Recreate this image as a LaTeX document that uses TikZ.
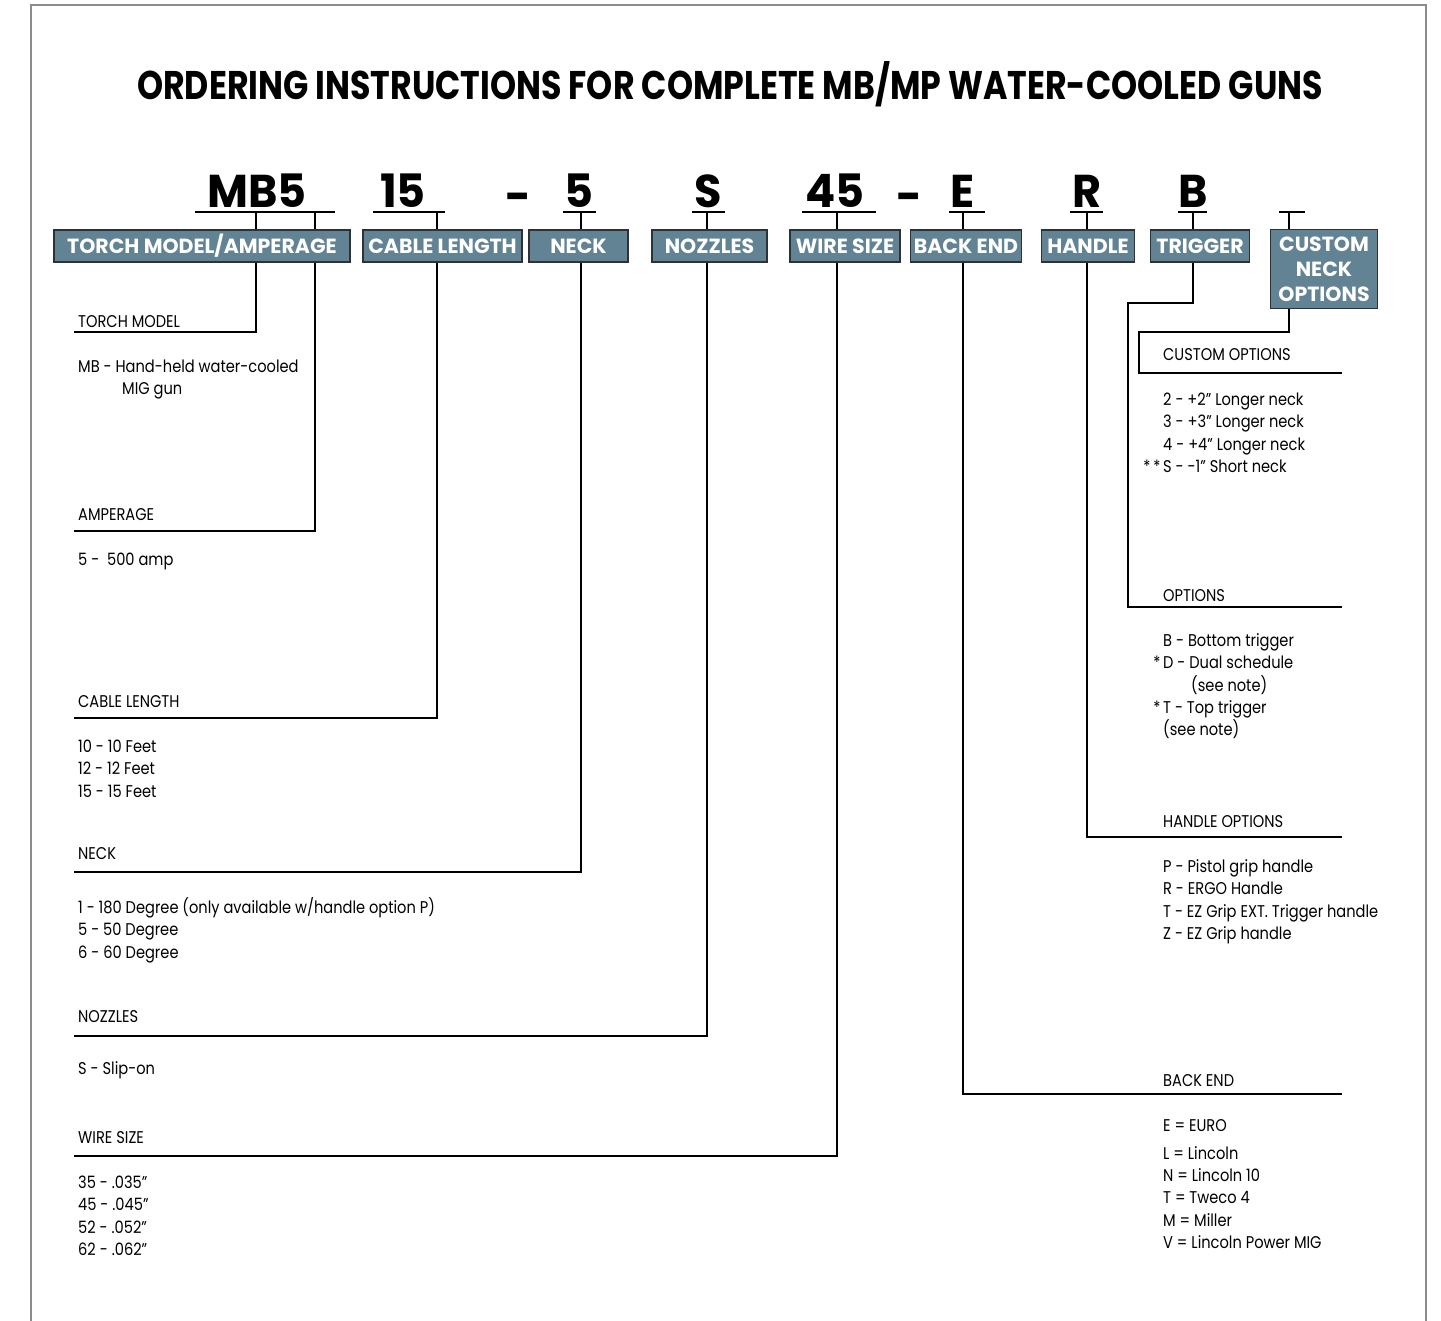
\documentclass[tikz,border=0pt]{standalone}
\usepackage{fontspec}
\setmainfont{Poppins}[FakeStretch=0.86]
\newfontfamily\titlefont{Poppins}[FakeStretch=0.83]
\newfontfamily\boxfont{Poppins}[FakeStretch=1.0]
\newfontfamily\codefont{Poppins}[FakeStretch=0.97]
\usetikzlibrary{calc}
\definecolor{boxblue}{RGB}{98,131,148}
\definecolor{boxedge}{RGB}{45,50,55}
\definecolor{framegray}{RGB}{140,140,140}
\tikzset{
  catbox/.style={draw=boxedge, line width=1.5, fill=boxblue, text=white, inner sep=0,
    font=\boxfont\bfseries\fontsize{20.5}{25}\selectfont, minimum height=32, align=center},
  codetxt/.style={font=\codefont\bfseries\fontsize{46}{46}\selectfont, anchor=base, inner sep=0},
  headtxt/.style={font=\fontsize{17}{20}\selectfont, anchor=base west, inner sep=0},
  leader/.style={line width=1.4, black},
}

\begin{document}
\begin{tikzpicture}[x=1pt, y=-1pt]
\useasboundingbox (0,0) rectangle (1441,1321);
\draw[framegray, line width=2] (31,1321) -- (31,5) -- (1426,5) -- (1426,1321);
\node[anchor=base, inner sep=0, font=\titlefont\bfseries\fontsize{40}{44}\selectfont] (title) at (730,100)
  {ORDERING INSTRUCTIONS FOR COMPLETE MB/MP WATER-COOLED GUNS};

% part number
\foreach \cx/\t/\n in {257/MB5/cMB, 403/15/cLen, 579/5/cNeck, 708/S/cNoz, 835/45/cWire, 963/E/cBack, 1087/R/cHandle, 1193/B/cTrig}
  \node[codetxt] (\n) at (\cx,208) {\t};
\node[codetxt] (dash1) at (518,213) {-};
\node[codetxt] (dash2) at (909,213) {-};
\foreach \a/\b in {195/335, 373/445, 563/596, 692/725, 802/876, 949/985, 1070/1103, 1178/1207, 1279/1305}
  \draw[leader] (\a,212) -- (\b,212);

% category boxes
\node[catbox, minimum width=296] (bTorch) at (202,246) {TORCH MODEL/AMPERAGE};
\node[catbox, minimum width=159] (bCable) at (442.5,246) {CABLE LENGTH};
\node[catbox, minimum width=99] (bNeck) at (578.5,246) {NECK};
\node[catbox, minimum width=115] (bNozzle) at (709.5,246) {NOZZLES};
\node[catbox, minimum width=110] (bWire) at (845,246) {WIRE SIZE};
\node[catbox, minimum width=111] (bBack) at (966,246) {BACK END};
\node[catbox, minimum width=93] (bHandle) at (1088,246) {HANDLE};
\node[catbox, minimum width=99] (bTrigger) at (1200,246) {TRIGGER};
\node[catbox, minimum width=107, minimum height=79] (bCustom) at (1324,269) {CUSTOM\\NECK\\OPTIONS};

% stems from the underlines
\foreach \n/\sx/\b in {sTorch/256/bTorch, sAmp/315/bTorch, sCable/437/bCable, sNeck/581/bNeck, sNoz/707/bNozzle,
  sWire/837/bWire, sBack/963/bBack, sHandle/1087/bHandle, sTrig/1193/bTrigger, sCust/1289/bCustom} {
  \coordinate (\n) at (\sx,212);
  \draw[leader] (\n) -- (\n |- \b.north);
}

% left column
\node[headtxt] (lTorch) at (78,328) {TORCH MODEL};
\node[headtxt] (iTorch1) at (78,373) {MB - Hand-held water-cooled};
\node[headtxt] (iTorch2) at (122,395) {MIG gun};
\node[headtxt] (lAmp) at (78,520) {AMPERAGE};
\node[headtxt] (iAmp) at (78,565) {5 -\ \ 500 amp};
\node[headtxt] (lCable) at (78,707) {CABLE LENGTH};
\foreach \y/\t [count=\i] in {752/10 - 10 Feet, 774/12 - 12 Feet, 797/15 - 15 Feet}
  \node[headtxt] (iCable\i) at (78,\y) {\t};
\node[headtxt] (lNeck) at (78,859) {NECK};
\node[headtxt] (iNeck1) at (78,913) {1 - 180 Degree (only available w/handle option P)};
\node[headtxt] (iNeck2) at (78,935) {5 - 50 Degree};
\node[headtxt] (iNeck3) at (78,958) {6 - 60 Degree};
\node[headtxt] (lNoz) at (78,1022) {NOZZLES};
\node[headtxt] (iNoz) at (78,1074) {S - Slip-on};
\node[headtxt] (lWire) at (78,1143) {WIRE SIZE};
\foreach \y/\t [count=\i] in {1188/35 - .035”, 1210/45 - .045”, 1233/52 - .052”, 1255/62 - .062”}
  \node[headtxt] (iWire\i) at (78,\y) {\t};

\foreach \n/\y in {eTorch/332, eAmp/531, eCable/718, eNeck/872, eNoz/1036, eWire/1156}
  \coordinate (\n) at (74,\y);
\draw[leader] (sTorch |- bTorch.south) |- (eTorch);
\draw[leader] (sAmp |- bTorch.south) |- (eAmp);
\draw[leader] (sCable |- bCable.south) |- (eCable);
\draw[leader] (sNeck |- bNeck.south) |- (eNeck);
\draw[leader] (sNoz |- bNozzle.south) |- (eNoz);
\draw[leader] (sWire |- bWire.south) |- (eWire);

% right column
\node[headtxt] (lCust) at (1163,361) {CUSTOM OPTIONS};
\node[headtxt] (iCust1) at (1163,406) {2 - +2” Longer neck};
\node[headtxt] (iCust2) at (1163,428) {3 - +3” Longer neck};
\node[headtxt] (iCust3) at (1163,450) {4 - +4” Longer neck};
\node[headtxt] (iCust4) at (1163,473) {\llap{*\,*\,}S - -1” Short neck};
\node[headtxt] (lOpt) at (1163,601) {OPTIONS};
\node[headtxt] (iOpt1) at (1163,646) {B - Bottom trigger};
\node[headtxt] (iOpt2) at (1163,668) {\llap{*\,}D - Dual schedule};
\node[headtxt] (iOpt3) at (1191,691) {(see note)};
\node[headtxt] (iOpt4) at (1163,713) {\llap{*\,}T - Top trigger};
\node[headtxt] (iOpt5) at (1163,735) {(see note)};
\node[headtxt] (lHandle) at (1163,827) {HANDLE OPTIONS};
\foreach \y/\t [count=\i] in {872/P - Pistol grip handle, 894/R - ERGO Handle, 917/T - EZ Grip EXT. Trigger handle, 939/Z - EZ Grip handle}
  \node[headtxt] (iHandle\i) at (1163,\y) {\t};
\node[headtxt] (lBack) at (1163,1086) {BACK END};
\foreach \y/\t [count=\i] in {1131/E = EURO, 1159/L = Lincoln, 1181/N = Lincoln 10, 1203/T = Tweco 4, 1226/M = Miller, 1248/V = Lincoln Power MIG}
  \node[headtxt] (iBack\i) at (1163,\y) {\t};

\foreach \n/\y in {eCust/373, eOpt/607, eHandle/837, eBack/1094}
  \coordinate (\n) at (1342,\y);
\coordinate (kTrig) at (1128,303);
\coordinate (kCust) at (1139,332);
\draw[leader] (sTrig |- bTrigger.south) |- (kTrig) |- (eOpt);
\draw[leader] (sCust |- bCustom.south) |- (kCust) |- (eCust);
\draw[leader] (sHandle |- bHandle.south) |- (eHandle);
\draw[leader] (sBack |- bBack.south) |- (eBack);
\end{tikzpicture}
\end{document}
